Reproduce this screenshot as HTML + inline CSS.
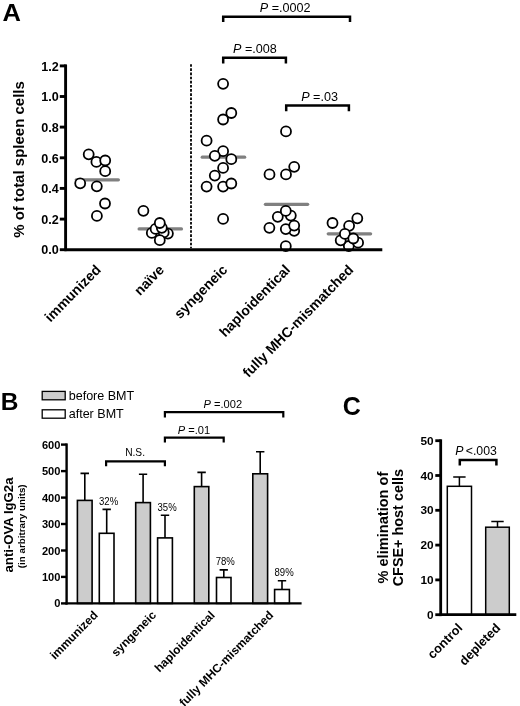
<!DOCTYPE html>
<html><head><meta charset="utf-8"><title>Figure</title>
<style>html,body{margin:0;padding:0;background:#fff;}svg{display:block;filter:grayscale(1);}text{font-family:"Liberation Sans", sans-serif;fill:#000;}</style>
</head><body>
<svg width="520" height="706" viewBox="0 0 520 706">
<rect width="520" height="706" fill="#fff"/>
<text transform="translate(2.5 20.7) scale(1.05 1)" font-size="24.3" font-weight="bold">A</text>
<text x="58.7" y="254.4" font-size="12.6" font-weight="bold" text-anchor="end">0.0</text>
<text x="58.7" y="223.8" font-size="12.6" font-weight="bold" text-anchor="end">0.2</text>
<text x="58.7" y="193.1" font-size="12.6" font-weight="bold" text-anchor="end">0.4</text>
<text x="58.7" y="162.5" font-size="12.6" font-weight="bold" text-anchor="end">0.6</text>
<text x="58.7" y="131.8" font-size="12.6" font-weight="bold" text-anchor="end">0.8</text>
<text x="58.7" y="101.2" font-size="12.6" font-weight="bold" text-anchor="end">1.0</text>
<text x="58.7" y="70.6" font-size="12.6" font-weight="bold" text-anchor="end">1.2</text>
<text transform="translate(24.4 159.5) rotate(-90)" font-size="15" font-weight="bold" text-anchor="middle">% of total spleen cells</text>
<line x1="191" y1="64.2" x2="191" y2="248.2" stroke="#000" stroke-width="1.8" stroke-dasharray="2.65 1.5"/>
<line x1="76.2" y1="179.8" x2="118.4" y2="179.8" stroke="#808080" stroke-width="3.2" stroke-linecap="round"/>
<line x1="139.1" y1="228.9" x2="181.5" y2="228.9" stroke="#808080" stroke-width="3.2" stroke-linecap="round"/>
<line x1="202.2" y1="157.2" x2="244.7" y2="157.2" stroke="#808080" stroke-width="3.2" stroke-linecap="round"/>
<line x1="265.4" y1="204.3" x2="307.7" y2="204.3" stroke="#808080" stroke-width="3.2" stroke-linecap="round"/>
<line x1="328.2" y1="233.8" x2="370.6" y2="233.8" stroke="#808080" stroke-width="3.2" stroke-linecap="round"/>
<circle cx="96.4" cy="161.9" r="5.0" fill="#fff" stroke="#000" stroke-width="1.8"/>
<circle cx="88.7" cy="154.3" r="5.0" fill="#fff" stroke="#000" stroke-width="1.8"/>
<circle cx="105.2" cy="160.5" r="5.0" fill="#fff" stroke="#000" stroke-width="1.8"/>
<circle cx="105.2" cy="171.2" r="5.0" fill="#fff" stroke="#000" stroke-width="1.8"/>
<circle cx="80.2" cy="183.3" r="5.0" fill="#fff" stroke="#000" stroke-width="1.8"/>
<circle cx="96.8" cy="186.3" r="5.0" fill="#fff" stroke="#000" stroke-width="1.8"/>
<circle cx="105.0" cy="203.5" r="5.0" fill="#fff" stroke="#000" stroke-width="1.8"/>
<circle cx="96.9" cy="215.9" r="5.0" fill="#fff" stroke="#000" stroke-width="1.8"/>
<circle cx="143.4" cy="210.8" r="5.0" fill="#fff" stroke="#000" stroke-width="1.8"/>
<circle cx="167.9" cy="233.6" r="5.0" fill="#fff" stroke="#000" stroke-width="1.8"/>
<circle cx="151.8" cy="232.9" r="5.0" fill="#fff" stroke="#000" stroke-width="1.8"/>
<circle cx="163.7" cy="232.4" r="5.0" fill="#fff" stroke="#000" stroke-width="1.8"/>
<circle cx="155.6" cy="228.9" r="5.0" fill="#fff" stroke="#000" stroke-width="1.8"/>
<circle cx="161.8" cy="227.8" r="5.0" fill="#fff" stroke="#000" stroke-width="1.8"/>
<circle cx="159.8" cy="240.2" r="5.0" fill="#fff" stroke="#000" stroke-width="1.8"/>
<circle cx="159.8" cy="223.0" r="5.0" fill="#fff" stroke="#000" stroke-width="1.8"/>
<circle cx="223.1" cy="83.8" r="5.0" fill="#fff" stroke="#000" stroke-width="1.8"/>
<circle cx="231.3" cy="113.0" r="5.0" fill="#fff" stroke="#000" stroke-width="1.8"/>
<circle cx="223.1" cy="119.5" r="5.0" fill="#fff" stroke="#000" stroke-width="1.8"/>
<circle cx="206.6" cy="140.7" r="5.0" fill="#fff" stroke="#000" stroke-width="1.8"/>
<circle cx="223.1" cy="151.2" r="5.0" fill="#fff" stroke="#000" stroke-width="1.8"/>
<circle cx="214.8" cy="155.8" r="5.0" fill="#fff" stroke="#000" stroke-width="1.8"/>
<circle cx="231.3" cy="159.2" r="5.0" fill="#fff" stroke="#000" stroke-width="1.8"/>
<circle cx="223.1" cy="167.9" r="5.0" fill="#fff" stroke="#000" stroke-width="1.8"/>
<circle cx="214.8" cy="175.6" r="5.0" fill="#fff" stroke="#000" stroke-width="1.8"/>
<circle cx="223.1" cy="186.6" r="5.0" fill="#fff" stroke="#000" stroke-width="1.8"/>
<circle cx="206.6" cy="186.6" r="5.0" fill="#fff" stroke="#000" stroke-width="1.8"/>
<circle cx="231.3" cy="183.5" r="5.0" fill="#fff" stroke="#000" stroke-width="1.8"/>
<circle cx="223.1" cy="218.9" r="5.0" fill="#fff" stroke="#000" stroke-width="1.8"/>
<circle cx="286.0" cy="131.4" r="5.0" fill="#fff" stroke="#000" stroke-width="1.8"/>
<circle cx="294.2" cy="166.8" r="5.0" fill="#fff" stroke="#000" stroke-width="1.8"/>
<circle cx="269.5" cy="174.4" r="5.0" fill="#fff" stroke="#000" stroke-width="1.8"/>
<circle cx="286.0" cy="174.4" r="5.0" fill="#fff" stroke="#000" stroke-width="1.8"/>
<circle cx="290.8" cy="215.6" r="5.0" fill="#fff" stroke="#000" stroke-width="1.8"/>
<circle cx="277.8" cy="216.8" r="5.0" fill="#fff" stroke="#000" stroke-width="1.8"/>
<circle cx="285.8" cy="210.9" r="5.0" fill="#fff" stroke="#000" stroke-width="1.8"/>
<circle cx="294.2" cy="230.8" r="5.0" fill="#fff" stroke="#000" stroke-width="1.8"/>
<circle cx="285.8" cy="229.1" r="5.0" fill="#fff" stroke="#000" stroke-width="1.8"/>
<circle cx="294.2" cy="225.6" r="5.0" fill="#fff" stroke="#000" stroke-width="1.8"/>
<circle cx="269.4" cy="227.8" r="5.0" fill="#fff" stroke="#000" stroke-width="1.8"/>
<circle cx="285.8" cy="246.2" r="5.0" fill="#fff" stroke="#000" stroke-width="1.8"/>
<circle cx="348.8" cy="246.0" r="5.0" fill="#fff" stroke="#000" stroke-width="1.8"/>
<circle cx="340.7" cy="240.3" r="5.0" fill="#fff" stroke="#000" stroke-width="1.8"/>
<circle cx="358.1" cy="242.7" r="5.0" fill="#fff" stroke="#000" stroke-width="1.8"/>
<circle cx="357.3" cy="218.3" r="5.0" fill="#fff" stroke="#000" stroke-width="1.8"/>
<circle cx="349.1" cy="225.8" r="5.0" fill="#fff" stroke="#000" stroke-width="1.8"/>
<circle cx="344.9" cy="233.9" r="5.0" fill="#fff" stroke="#000" stroke-width="1.8"/>
<circle cx="353.3" cy="238.5" r="5.0" fill="#fff" stroke="#000" stroke-width="1.8"/>
<circle cx="332.5" cy="223.0" r="5.0" fill="#fff" stroke="#000" stroke-width="1.8"/>
<line x1="65.6" y1="64.4" x2="65.6" y2="251.1" stroke="#000" stroke-width="2.9"/>
<line x1="64.6" y1="249.7" x2="382.3" y2="249.7" stroke="#000" stroke-width="2.9"/>
<line x1="59.8" y1="249.7" x2="65.6" y2="249.7" stroke="#000" stroke-width="2.9"/>
<line x1="59.8" y1="219.1" x2="65.6" y2="219.1" stroke="#000" stroke-width="2.9"/>
<line x1="59.8" y1="188.4" x2="65.6" y2="188.4" stroke="#000" stroke-width="2.9"/>
<line x1="59.8" y1="157.8" x2="65.6" y2="157.8" stroke="#000" stroke-width="2.9"/>
<line x1="59.8" y1="127.1" x2="65.6" y2="127.1" stroke="#000" stroke-width="2.9"/>
<line x1="59.8" y1="96.5" x2="65.6" y2="96.5" stroke="#000" stroke-width="2.9"/>
<line x1="59.8" y1="65.9" x2="65.6" y2="65.9" stroke="#000" stroke-width="2.9"/>
<path d="M223.2 22.0 V16.7 H350.0 V22.0" fill="none" stroke="#000" stroke-width="2.5" stroke-linejoin="miter"/>
<text x="285.2" y="11.9" font-size="12.6" text-anchor="middle"><tspan font-style="italic">P</tspan> =.0002</text>
<path d="M223.2 63.5 V57.7 H285.9 V63.5" fill="none" stroke="#000" stroke-width="2.5" stroke-linejoin="miter"/>
<text x="254.9" y="52.6" font-size="12.6" text-anchor="middle"><tspan font-style="italic">P</tspan> =.008</text>
<path d="M286.2 111.3 V105.6 H348.9 V111.3" fill="none" stroke="#000" stroke-width="2.5" stroke-linejoin="miter"/>
<text x="319.6" y="101.0" font-size="12.6" text-anchor="middle"><tspan font-style="italic">P</tspan> =.03</text>
<text transform="translate(101.7 270.6) rotate(-45.5)" font-size="14" font-weight="bold" text-anchor="end">immunized</text>
<text transform="translate(165.0 270.6) rotate(-45.5)" font-size="14" font-weight="bold" text-anchor="end">naïve</text>
<text transform="translate(228.1 270.6) rotate(-45.5)" font-size="14" font-weight="bold" text-anchor="end">syngeneic</text>
<text transform="translate(291.1 270.6) rotate(-45.5)" font-size="14" font-weight="bold" text-anchor="end">haploidentical</text>
<text transform="translate(354.3 270.6) rotate(-45.5)" font-size="14" font-weight="bold" text-anchor="end">fully MHC-mismatched</text>
<text x="0.8" y="410.4" font-size="24.5" font-weight="bold">B</text>
<rect x="42.2" y="391.4" width="23" height="8.4" fill="#ccc" stroke="#000" stroke-width="1.3"/>
<rect x="42.2" y="409.8" width="23" height="8.4" fill="#fff" stroke="#000" stroke-width="1.3"/>
<text x="68.7" y="400.0" font-size="12.55">before BMT</text>
<text x="68.7" y="418.1" font-size="12.55">after BMT</text>
<path d="M84.8 500.4 V473.4 M80.5 473.4 H89.0" stroke="#000" stroke-width="1.6" fill="none"/>
<rect x="77.4" y="500.4" width="14.7" height="103.0" fill="#ccc" stroke="#000" stroke-width="1.6"/>
<path d="M106.7 533.3 V509.4 M102.5 509.4 H110.9" stroke="#000" stroke-width="1.6" fill="none"/>
<rect x="99.3" y="533.3" width="14.7" height="70.1" fill="#fff" stroke="#000" stroke-width="1.6"/>
<path d="M143.1 502.6 V474.2 M138.9 474.2 H147.2" stroke="#000" stroke-width="1.6" fill="none"/>
<rect x="135.7" y="502.6" width="14.7" height="100.8" fill="#ccc" stroke="#000" stroke-width="1.6"/>
<path d="M165.0 537.9 V515.3 M160.8 515.3 H169.2" stroke="#000" stroke-width="1.6" fill="none"/>
<rect x="157.6" y="537.9" width="14.8" height="65.5" fill="#fff" stroke="#000" stroke-width="1.6"/>
<path d="M201.6 486.6 V472.4 M197.4 472.4 H205.8" stroke="#000" stroke-width="1.6" fill="none"/>
<rect x="194.3" y="486.6" width="14.5" height="116.8" fill="#ccc" stroke="#000" stroke-width="1.6"/>
<path d="M223.8 577.5 V569.9 M219.6 569.9 H227.9" stroke="#000" stroke-width="1.6" fill="none"/>
<rect x="216.5" y="577.5" width="14.5" height="25.9" fill="#fff" stroke="#000" stroke-width="1.6"/>
<path d="M260.2 473.8 V451.7 M256.0 451.7 H264.4" stroke="#000" stroke-width="1.6" fill="none"/>
<rect x="252.8" y="473.8" width="14.8" height="129.6" fill="#ccc" stroke="#000" stroke-width="1.6"/>
<path d="M282.0 589.5 V580.8 M277.8 580.8 H286.2" stroke="#000" stroke-width="1.6" fill="none"/>
<rect x="274.6" y="589.5" width="14.8" height="13.9" fill="#fff" stroke="#000" stroke-width="1.6"/>
<line x1="66.6" y1="443.4" x2="66.6" y2="604.6" stroke="#000" stroke-width="2.4"/>
<line x1="65.6" y1="603.4" x2="301.6" y2="603.4" stroke="#000" stroke-width="2.4"/>
<line x1="61.0" y1="603.4" x2="66.6" y2="603.4" stroke="#000" stroke-width="2.4"/>
<text x="60.4" y="607.4" font-size="11.1" font-weight="bold" text-anchor="end">0</text>
<line x1="61.0" y1="576.9" x2="66.6" y2="576.9" stroke="#000" stroke-width="2.4"/>
<text x="60.4" y="580.9" font-size="11.1" font-weight="bold" text-anchor="end">100</text>
<line x1="61.0" y1="550.5" x2="66.6" y2="550.5" stroke="#000" stroke-width="2.4"/>
<text x="60.4" y="554.5" font-size="11.1" font-weight="bold" text-anchor="end">200</text>
<line x1="61.0" y1="524.0" x2="66.6" y2="524.0" stroke="#000" stroke-width="2.4"/>
<text x="60.4" y="528.0" font-size="11.1" font-weight="bold" text-anchor="end">300</text>
<line x1="61.0" y1="497.6" x2="66.6" y2="497.6" stroke="#000" stroke-width="2.4"/>
<text x="60.4" y="501.6" font-size="11.1" font-weight="bold" text-anchor="end">400</text>
<line x1="61.0" y1="471.1" x2="66.6" y2="471.1" stroke="#000" stroke-width="2.4"/>
<text x="60.4" y="475.1" font-size="11.1" font-weight="bold" text-anchor="end">500</text>
<line x1="61.0" y1="444.6" x2="66.6" y2="444.6" stroke="#000" stroke-width="2.4"/>
<text x="60.4" y="448.6" font-size="11.1" font-weight="bold" text-anchor="end">600</text>
<text transform="translate(12.6 525.0) rotate(-90)" font-size="13.15" font-weight="bold" text-anchor="middle">anti-OVA IgG2a</text>
<text transform="translate(25.2 526.3) rotate(-90)" font-size="9.8" font-weight="bold" text-anchor="middle">(in arbitrary units)</text>
<text transform="translate(99.0 504.8) scale(0.93 1)" font-size="10.3">32%</text>
<text transform="translate(157.5 511.1) scale(0.93 1)" font-size="10.3">35%</text>
<text transform="translate(215.7 564.7) scale(0.93 1)" font-size="10.3">78%</text>
<text transform="translate(274.5 575.5) scale(0.93 1)" font-size="10.3">89%</text>
<path d="M106.1 466.3 V461.3 H164.9 V466.3" fill="none" stroke="#000" stroke-width="2.2" stroke-linejoin="miter"/>
<text x="135.1" y="456.1" font-size="10.2" text-anchor="middle">N.S.</text>
<path d="M164.9 442.5 V437.7 H223.7 V442.5" fill="none" stroke="#000" stroke-width="2.2" stroke-linejoin="miter"/>
<text x="194.0" y="433.8" font-size="11.1" text-anchor="middle"><tspan font-style="italic">P</tspan> =.01</text>
<path d="M164.9 417.4 V412.2 H283.3 V417.4" fill="none" stroke="#000" stroke-width="2.2" stroke-linejoin="miter"/>
<text x="222.8" y="407.8" font-size="11.1" text-anchor="middle"><tspan font-style="italic">P</tspan> =.002</text>
<text transform="translate(98.5 615.8) rotate(-45.5)" font-size="11.9" font-weight="bold" text-anchor="end">immunized</text>
<text transform="translate(156.9 615.8) rotate(-45.5)" font-size="11.9" font-weight="bold" text-anchor="end">syngeneic</text>
<text transform="translate(215.5 615.8) rotate(-45.5)" font-size="11.9" font-weight="bold" text-anchor="end">haploidentical</text>
<text transform="translate(274.1 615.8) rotate(-45.5)" font-size="11.9" font-weight="bold" text-anchor="end">fully MHC-mismatched</text>
<text x="342.7" y="414.6" font-size="25" font-weight="bold">C</text>
<path d="M459.4 486.3 V476.9 M453.2 476.9 H465.6" stroke="#000" stroke-width="1.5" fill="none"/>
<rect x="447.3" y="486.3" width="24.2" height="128.4" fill="#fff" stroke="#000" stroke-width="1.5"/>
<path d="M497.5 527.2 V521.6 M491.3 521.6 H503.7" stroke="#000" stroke-width="1.5" fill="none"/>
<rect x="485.7" y="527.2" width="23.6" height="87.5" fill="#ccc" stroke="#000" stroke-width="1.5"/>
<line x1="440.7" y1="439.3" x2="440.7" y2="616.1" stroke="#000" stroke-width="2.8"/>
<line x1="439.7" y1="614.7" x2="516.3" y2="614.7" stroke="#000" stroke-width="2.8"/>
<line x1="435.3" y1="614.7" x2="440.7" y2="614.7" stroke="#000" stroke-width="2.8"/>
<text x="433.5" y="618.8" font-size="11.8" font-weight="bold" text-anchor="end">0</text>
<line x1="435.3" y1="579.9" x2="440.7" y2="579.9" stroke="#000" stroke-width="2.8"/>
<text x="433.5" y="584.0" font-size="11.8" font-weight="bold" text-anchor="end">10</text>
<line x1="435.3" y1="545.1" x2="440.7" y2="545.1" stroke="#000" stroke-width="2.8"/>
<text x="433.5" y="549.2" font-size="11.8" font-weight="bold" text-anchor="end">20</text>
<line x1="435.3" y1="510.3" x2="440.7" y2="510.3" stroke="#000" stroke-width="2.8"/>
<text x="433.5" y="514.4" font-size="11.8" font-weight="bold" text-anchor="end">30</text>
<line x1="435.3" y1="475.5" x2="440.7" y2="475.5" stroke="#000" stroke-width="2.8"/>
<text x="433.5" y="479.6" font-size="11.8" font-weight="bold" text-anchor="end">40</text>
<line x1="435.3" y1="440.7" x2="440.7" y2="440.7" stroke="#000" stroke-width="2.8"/>
<text x="433.5" y="444.8" font-size="11.8" font-weight="bold" text-anchor="end">50</text>
<text transform="translate(387.5 527.6) rotate(-90)" font-size="14.6" font-weight="bold" text-anchor="middle">% elimination of</text>
<text transform="translate(403.1 527.7) rotate(-90)" font-size="14.4" font-weight="bold" text-anchor="middle">CFSE+ host cells</text>
<path d="M459.8 465.4 V460.0 H496.4 V465.4" fill="none" stroke="#000" stroke-width="2.5" stroke-linejoin="miter"/>
<text x="455.3" y="454.6" font-size="12.3"><tspan font-style="italic">P</tspan><tspan dx="2.2">&lt;.003</tspan></text>
<text transform="translate(463.2 628.6) rotate(-45.5)" font-size="12.8" font-weight="bold" text-anchor="end">control</text>
<text transform="translate(501.3 628.6) rotate(-45.5)" font-size="12.8" font-weight="bold" text-anchor="end">depleted</text>
</svg></body></html>
